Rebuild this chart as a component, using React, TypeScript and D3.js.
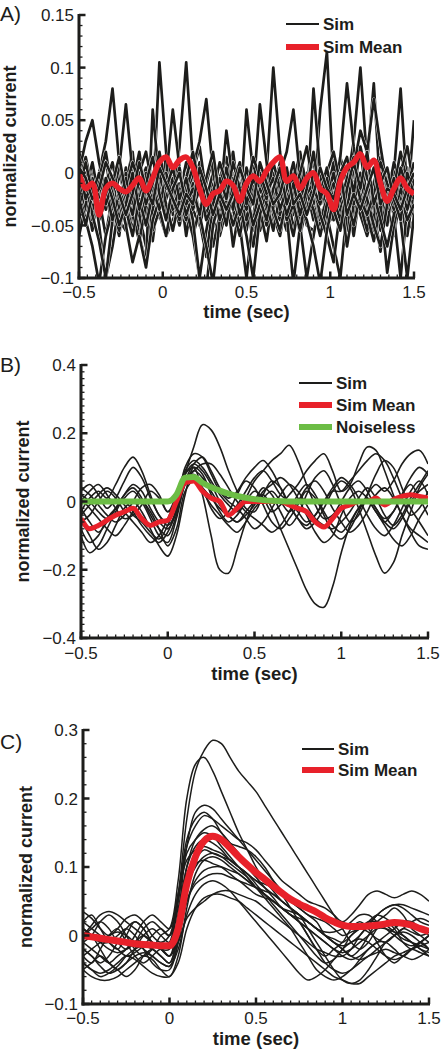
import React from 'react';
import * as d3 from 'd3';

// time grids (sec)
const T_A = d3.range(51).map(i => -0.5 + i * 0.04);
const T_BC = d3.range(41).map(i => -0.5 + i * 0.05);

// ---------- Panel A (values in units of 0.001) ----------
const simA1 = [10, -20, 5, -30, -10, -40, 0, -25, -50, -15, 5, -30, 105, 20, -40, -10, -60, -20, 10, -35, -5, -55, -20, 0, -45, -15, -70, -30, 5, -25, -40, -10, -55, -20, 0, -30, 60, 115, -10, -45, -20, -60, -15, 0, -35, -75, -25, -5, -40, -20, -30];
const simA2 = [-30, 0, -45, -20, 15, -35, -60, -10, 20, -40, -20, -65, -15, 10, -30, 25, 105, 10, -50, -25, 0, -40, -15, -70, -30, 5, -20, -45, 0, 100, 20, -40, -15, -60, -30, 0, -50, -20, 10, -35, -55, -10, 20, -25, -45, 0, -30, -60, -20, 5, -40];
const simA3 = [20, -10, -40, 0, 30, 80, 10, -30, -55, -20, 0, -45, -25, 15, -15, -50, -30, 0, 25, -20, -70, -40, -10, 20, -30, -55, -15, 5, -40, -20, 10, -35, -60, -25, 0, -45, -15, -40, -20, 15, -10, 30, 100, 10, 85, -20, -50, -5, -30, -60, -15];
const simA4 = [-45, -15, 10, -25, -60, -20, 5, 65, 0, -40, -70, -35, -5, -30, -55, -20, 10, -15, -45, -80, -30, -5, 15, -25, -50, -100, -40, -10, -30, 0, -20, -45, -15, 10, -30, 80, 0, -40, -70, -100, -35, -5, -25, -50, -10, 15, -30, 0, 80, -20, -45];
const simA5 = [0, 30, 50, 10, -20, -50, -15, -40, -10, 20, -25, -55, -35, -5, 60, 5, -30, -60, -35, -10, 15, -20, -45, -15, -40, 60, 0, -35, -65, -20, 5, -30, -10, 20, -15, -45, -20, 5, -25, 15, 85, 25, -20, -45, -15, -55, -25, 10, -10, -35, -5];
const simA6 = [-60, -30, -5, -50, -100, -70, -30, 0, -20, -60, -85, 60, -10, -40, -20, 5, -35, -60, -100, -110, -50, -25, 5, -30, -10, -45, -20, 65, 10, -40, -60, -25, 0, -50, -100, -60, -25, -10, -45, -20, -70, -30, -5, -35, -60, -20, 0, -40, -100, -30, 50];
const simA7 = [15, -15, -35, -5, 20, -20, -45, -15, 10, -10, -40, -20, 15, -25, -5, -40, -15, 5, 30, 70, 0, -30, 40, -10, -35, -15, 10, -20, -50, -25, 0, 20, 60, -5, -35, -10, -45, -25, 0, -30, -5, 15, -30, -55, -20, 0, -35, -15, 20, -10, -25];
const simA8 = [-20, -45, -70, -105, -60, -35, -55, -20, -40, -65, -30, -5, -35, -60, -25, -50, -15, -45, -100, -55, -20, -40, -10, -35, -60, -25, -45, -15, -30, -55, -20, -40, -105, -50, -20, -35, -60, -30, -10, -40, -25, -50, -20, -40, -65, -30, -95, -50, -20, -45, -30];
const simA9 = [-35, -10, -40, -65, -100, -45, -15, -35, -60, -25, -50, -20, 0, -30, -55, -25, -45, -10, -40, -70, -105, -45, -25, -50, -30, -60, -100, -40, -15, -35, -5, -45, -30, -55, -20, -10, -40, -60, -85, -35, -15, -30, 0, -25, -50, -70, -30, -5, -45, -100, -40];
const simA10 = [5, -25, -10, -30, -15, -45, -20, -50, -85, -60, -90, -45, -25, -5, -35, -15, -40, -20, 0, -30, -15, -45, -25, -5, -40, -20, -50, -30, -10, -35, -55, -25, -5, -30, -45, -70, -105, -55, -25, -45, -20, 0, -25, -40, -20, -45, -70, -40, -15, -35, -10];
const simA11 = [-10, 15, -15, -35, -10, 10, -25, -5, -30, 0, 20, -15, -35, 0, -25, -45, -5, 20, -15, -40, -20, 10, -10, -35, 5, -20, 15, -5, -25, 10, -15, -40, -20, 0, 25, -15, -30, 0, 20, -10, -35, 5, 40, 20, 70, 25, -15, -35, 0, 25, -15];
const simA12 = [-25, -50, -20, 0, -30, -10, 15, -20, -40, -5, -30, -10, 20, -15, 5, -25, -5, -35, -15, -45, -30, -5, -25, 10, -15, -35, -10, 0, -20, -5, -35, -15, 10, -25, -5, 10, -20, 5, -30, 0, 15, -20, 25, -5, -20, 10, -10, -30, 5, -15, 10];
const simA13 = [-15, 10, -20, -40, -5, -25, -50, -30, 0, -35, -10, 15, -20, -45, -15, 0, -30, -15, -40, -5, 20, -25, -50, -10, 10, -30, -5, -25, -45, -15, 5, -30, -10, -40, -15, 20, -25, -5, -35, -55, -15, 10, -15, 20, -30, -10, 5, -25, -45, 0, -20];
const simA14 = [-40, -20, -55, -10, -35, -20, -35, 5, -30, -50, -20, -40, -10, -25, 5, -30, -50, -25, -5, -45, -35, -10, -30, -45, -20, -35, -55, -20, -5, -35, -45, -20, -40, -5, -25, -40, -10, -30, -15, -55, -30, -45, -5, -15, -35, -55, -20, -40, -25, -10, -35];
const simA15 = [5, -5, -25, -15, 10, -5, -20, -40, -20, 10, -15, -30, 5, -10, -25, -40, -20, -30, 5, -15, -40, -20, -35, -20, 5, -15, -30, 10, -10, -30, -20, 5, -30, -20, -40, -20, 5, -15, -25, 0, -40, -20, -35, -15, 5, -30, -15, -20, -35, -15, 0];
const simA16 = [-55, -35, -15, -45, -25, -5, -45, -55, -30, -40, -5, -50, -40, -60, -45, -30, -10, -35, -50, -20, -45, -60, -35, -30, -50, -40, -25, -55, -30, -45, -35, -55, -30, -20, -50, -55, -35, -50, -40, -20, -45, -25, -40, -60, -35, -40, -50, -10, -40, -55, -45];
const meanA = [0, -15, -10, -40, -15, -10, -15, -18, -12, -5, -17, -5, 10, 15, 5, 12, 15, 5, -15, -30, -20, -17, -8, -12, -27, -10, -3, -8, 2, 10, 15, -8, -3, -15, -5, 0, -15, -20, -35, -8, 5, 10, 18, 5, 12, -10, -27, -15, -5, -15, -20];

// ---------- Panel B (values in units of 0.01) ----------
const simB1 = [2, 0, -3, -5, -2, 2, 5, 3, -2, -6, -8, -3, 8, 16, 22.5, 21, 16, 9, 3, -2, -3, 2, 6, 4, -1, -5, -8, -6, -2, 3, 6, 4, -2, -9, -16, -21, -18, -10, -3, 4, 8];
const simB2 = [-3, 1, 3, 1, 5, 10, 13, 9, 2, -4, -6, 0, 8, 10, 2, -10, -20, -21, -14, -6, 0, 4, 2, -3, -7, -4, 2, 7, 9, 5, -1, -6, -4, 2, 8, 12, 10, 4, -2, -6, -10];
const simB3 = [-8, -12, -10, -5, -2, 0, -3, -7, -10, -12, -9, -2, 6, 9, 7, 3, -1, -4, -6, -3, 0, 2, -2, -8, -14, -20, -26, -30, -31, -25, -15, -7, -2, 1, -2, -6, -8, -5, 0, 3, 5];
const simB4 = [0, 3, 5, 2, -2, -5, -4, -1, 3, 1, -3, 2, 9, 12, 10, 6, 2, -1, -3, 1, 6, 9, 12, 14, 16.5, 12, 5, -1, -5, -4, 0, 4, 6, 3, -2, -5, -3, 2, 7, 10, 8];
const simB5 = [-5, -10, -14, -12, -7, -2, 0, -3, -8, -13, -16, -10, 2, 10, 8, 2, -3, -6, -4, 0, 3, 1, -3, -1, 2, 5, 9, 12, 14, 9, 3, 5, 11, 16, 15, 9, 2, -4, -8, -10, -12];
const simB6 = [-10, -15, -13, -8, -3, 1, 3, 0, -5, -10, -12, -5, 5, 8, 4, -2, -5, -3, 2, 6, 4, -1, -6, -8, -5, -1, 3, 1, -4, -9, -11, -8, -3, 2, 5, 3, 6, 11, 14, 15, 11];
const simB7 = [3, 5, 2, -2, 1, 6, 10, 7, 1, -4, -7, -3, 6, 11, 13, 9, 4, 1, 3, 7, 10, 12, 9, 4, -1, -5, -7, -4, 0, 3, 3, 6, 9, 12, 14, 12, 7, 1, -4, -2, 3];
const simB8 = [-6, -4, 0, 3, 1, -3, -6, -9, -12, -10, -5, 1, 7, 7, 3, -1, -4, -7, -9, -6, -2, 1, 3, 0, -3, 0, 4, 6, 3, -2, -6, -9, -7, -3, 2, 4, 1, -4, -9, -13, -14];
const simB9 = [4, 2, -1, -4, -6, -4, 0, 4, 5, 2, -3, 0, 10, 14, 13, 8, 3, 0, -2, -5, -8, -6, -2, 2, 5, 3, -1, -5, -7, -8, -6, -3, 1, 4, 1, -4, -7, -4, 1, 5, 9];
const simB10 = [-2, -6, -9, -6, -2, 2, 4, 1, -4, -8, -10, -4, 5, 9, 11, 11, 8, 4, 0, -3, -5, -7, -9, -7, -3, 2, 5, 2, -3, -7, -9, -6, -2, 0, -3, -7, -11, -13, -10, -5, -1];
const simB11 = [1, -2, -5, -8, -10, -7, -3, 0, -3, -8, -13, -8, 3, 6, 4, 1, -2, -4, -1, 3, 7, 9, 6, 2, 0, -3, -6, -4, 0, 4, 7, 5, 1, -4, -8, -10, -7, -2, 3, 6, 2];
const simB12 = [-4, -1, 2, 4, 2, -1, -4, -6, -9, -11, -7, 0, 8, 11, 9, 5, 0, -4, -6, -4, -1, 3, 5, 7, 5, 1, -4, -9, -12, -10, -4, 1, 3, 1, -3, -6, -3, 2, 5, 1, -4];
const meanB = [-5, -8, -7, -5.5, -4, -3, -2, -5, -7, -6, -5.5, 0, 5.5, 6, 3, 1, 0, -4, -2, 0, 0, 0, 0, 0, -1, -2, -3, -6, -7.5, -5, -2, -1, 0, 0, 1, -1, 0.5, 1.5, 2, 1.5, 1];
const noiselessB = [0, 0, 0, 0, 0, 0, 0, 0, 0, 0, 0, 2, 7, 7.2, 5.5, 4.2, 3.2, 2.3, 1.6, 1.1, 0.7, 0.4, 0.2, 0.1, 0, 0, 0, 0, 0, 0, 0, 0, 0, 0, 0, 0, 0, 0, 0, 0, 0];

// ---------- Panel C (values in units of 0.01) ----------
const simC1 = [2, 3, 1, -1, -2, 0, 2, 1, -1, -2, -1, 6, 17, 24, 27, 28.5, 28, 26, 24, 22.5, 21, 19, 17, 15, 13, 11, 9, 7, 5, 3, 1, -1, -2, -1, 1, 2, 1, -1, -2, -1, 0];
const simC2 = [-1, 0, 2, 3, 2, 0, -2, -3, -2, 0, 1, 8, 20, 25, 26, 24, 21, 18, 15, 12.5, 10, 8, 6.5, 5, 4, 3, 2, 1, 0, -1, -2, -3, -2, 0, 2, 3, 4, 3, 1, 0, -1];
const simC3 = [-3, -4, -2, 0, 1, -1, -3, -4, -3, -2, -3, 3, 13, 18, 19, 18.5, 17, 15.5, 14, 12.5, 11, 9.5, 8, 6.5, 5, 4, 3, 2.5, 2, 1, 0, 0.5, 1, 2, 3, 2.5, 1.5, 0, -1, -2, -3];
const simC4 = [1, 0, -2, -4, -5, -4, -2, 0, 1, 0, -1, 5, 14, 17, 18, 17, 15, 13.5, 13, 12.5, 11.5, 10, 8, 6, 4, 2, 0, -2, -3, -2, -1, 1, 2, 1, -1, -3, -4, -3, -2, -1, -2];
const simC5 = [3.5, 2.5, 1, 0, 1, 2.5, 3, 2, 0, -1, 0, 6, 13, 16, 17.5, 17, 16, 15, 14, 13.5, 12.5, 11, 9.5, 8, 7, 6, 5, 4.5, 4, 3, 2, 3, 4.5, 6, 6.5, 6, 5.5, 6, 6.5, 6, 5];
const simC6 = [-5, -4, -3, -4, -5, -6, -5, -3, -2, -3, -4, 1, 10, 14, 15.5, 16, 15, 13.5, 12, 10, 8.5, 7, 5.5, 4, 3, 2, 0, -2, -4, -5, -5.5, -5, -3.5, -2, -1, -1, -2, -3, -2, -1, 0];
const simC7 = [0, 1, 2, 1, -1, -2, -1, 1, 2, 1, 0, 5, 12, 14, 15, 14.5, 13, 11.5, 10, 8.5, 7, 6, 5, 4, 3.5, 3, 2, 1, 0, -0.5, -1, 0, 1, 0.5, -0.5, -1, 0, 1, 2, 2.5, 2];
const simC8 = [-2, -3, -4, -3, -1, 1, 2, 1, -1, -2, -2, 3, 10, 13, 14, 13.5, 12.5, 11, 10, 9, 8, 7.5, 7, 6, 5, 4, 3, 2, 0, -1, -2, -3, -3.5, -3, -2, -1, 0, 0.5, 0, -1, -2];
const simC9 = [-1, -2, -3, -4, -3, -2, 0, 2, 3, 2, 1, 6, 11, 12.5, 13, 12.5, 12, 11, 10, 9, 7.5, 6, 4.5, 3, 1.5, 0, -1.5, -3, -4, -3.5, -2, 0, 1, 2, 2, 1.5, 0.5, -0.5, -1, -1.5, -2];
const simC10 = [1, 0, -1, -1, 0, 1, 0, -2, -4, -5, -5, -1, 7, 11, 12.5, 12, 11.5, 11, 10, 9, 8, 7, 6, 5, 4, 3, 1, -1, -3, -5, -6.5, -7, -6.5, -5, -3, -1, 0, 1, 0.5, 0, 0.5];
const simC11 = [-4, -5, -6, -5.5, -4.5, -3, -2, -1.5, -2, -3, -4, 0, 7, 10, 11.5, 12, 11.5, 10.5, 9.5, 8.5, 7, 5.5, 4, 2.5, 1, -1, -3, -5, -6, -6.5, -6, -5, -4, -3, -2.5, -2, -2.5, -3, -3.5, -3, -2];
const simC12 = [2, 1, 0, -1, -2, -3, -2.5, -1.5, 0, 1, 0, 4, 9, 10.5, 11, 10.5, 10, 9, 8, 7.5, 7, 6.5, 6, 5, 4, 3, 2, 1, 0.5, 0.5, 1, 2, 3, 3, 2, 1, 0, -1, -1.5, -1, 0];
const simC13 = [-3, -2, -1, 0, 0.5, 0, -1, -2, -3, -4, -4.5, -1, 5, 8, 9.5, 10, 10, 9.5, 9, 8, 7, 6, 5, 4, 3, 2, 1, 0, -1, -2, -2.5, -2, -1, 0, 1, 1, 0.5, 0, -1, -2, -2.5];
const simC14 = [0, 1.5, 3, 3.5, 3, 2, 1, 0, -1, -2, -3, 0, 5, 7.5, 8.5, 9, 9, 8.5, 8, 7, 6, 5.5, 5, 4, 3, 2, 1, 0, -1, -2, -3, -3.5, -3, -2, -1, 0, 1, 2, 2, 1, 0];
const simC15 = [-2, -3, -4.5, -5.5, -5, -4, -3, -2.5, -3, -4, -4.5, -2, 3, 6, 7.5, 8, 7.5, 6.5, 5, 3.5, 2, 0.5, -1, -2.5, -4, -5.5, -6.5, -6, -5, -3.5, -2, -1, -0.5, -1, -2, -3, -3.5, -3, -2, -1.5, -1];
const simC16 = [-4, -5, -5.5, -5, -4, -3, -3.5, -4.5, -5.5, -6, -6, -4, 1, 4, 5.5, 6, 6, 5.5, 5, 4, 3, 2, 1, 0, -1, -2, -3, -4, -5, -6, -6.5, -7, -7, -6, -5, -4, -3, -2.5, -2, -2.5, -3];
const simC17 = [1, 0, -1, -2, -2.5, -2, -1, 0, -1, -2, -3, -1, 2.5, 4, 5, 6, 6.5, 6.5, 6, 5.5, 5, 4, 3, 2, 1, 0, -1, -2, -2.5, -3, -3, -2, 0, 1.5, 3, 4, 4.5, 4, 3, 2, 1.5];
const simC18 = [-5, -6, -6.5, -6.5, -6, -5, -4, -3, -3.5, -5, -6, -3, 4, 9, 11, 11.5, 11, 10, 9, 8, 7, 6, 5, 4, 3, 2.5, 2, 1, 0, -1, -1.5, -1, 0, 1.5, 3, 4, 4.5, 4.5, 4, 3.5, 3];
const meanC = [0, -0.2, -0.4, -0.6, -0.8, -1, -1.2, -1.3, -1.4, -1.5, -1.5, 1, 7.5, 11.5, 13.8, 14.5, 14, 12.8, 11.5, 10.3, 9.2, 8.2, 7.2, 6.2, 5.3, 4.6, 4, 3.4, 2.6, 2, 1.5, 1.3, 1.3, 1.4, 1.5, 1.7, 1.9, 1.8, 1.5, 1, 0.6];

// ---------- ticks ----------
const X_TICKS = [-0.5, 0, 0.5, 1, 1.5];
const X_TICK_LABELS = ['\u22120.5', '0', '0.5', '1', '1.5'];
const A_Y_TICKS = [-0.1, -0.05, 0, 0.05, 0.1, 0.15];
const A_Y_LABELS = ['\u22120.1', '\u22120.05', '0', '0.05', '0.1', '0.15'];
const B_Y_TICKS = [-0.4, -0.2, 0, 0.2, 0.4];
const B_Y_LABELS = ['\u22120.4', '\u22120.2', '0', '0.2', '0.4'];
const C_Y_TICKS = [-0.1, 0, 0.1, 0.2, 0.3];
const C_Y_LABELS = ['\u22120.1', '0', '0.1', '0.2', '0.3'];

const BLACK = '#1d1d1b';
const RED = '#e8212a';
const GREEN = '#6cbd45';
const FONT = 'Liberation Sans, Arial, Helvetica, sans-serif';

function Panel(props: any) {
  const { id, box, yDomain, yTicks, yLabels, yMinorStep, t, unit, sims, simWidth, simHalo, simCurve, overlays, legend, letter, letterY, xTickY, xTitleY, yTitleX } = props;
  const x = d3.scaleLinear().domain([-0.5, 1.5]).range([box.l, box.r]);
  const y = d3.scaleLinear().domain(yDomain).range([box.b, box.t]);
  const gen = (curve: any) => d3.line<number>().x((_, i) => x(t[i])).y(v => y(v * unit)).curve(curve);
  const xMinor = d3.range(-0.5, 1.5 + 1e-9, 0.05);
  const yMinor = d3.range(yDomain[0], yDomain[1] + 1e-9, yMinorStep);
  const simGen = gen(simCurve);
  return (
    <g>
      <defs>
        <clipPath id={id}>
          <rect x={box.l} y={box.t} width={box.r - box.l} height={box.b - box.t} />
        </clipPath>
      </defs>
      <g clipPath={`url(#${id})`}>
        {sims.map((s: number[], k: number) => (
          <g key={k}>
            {simHalo ? <path d={simGen(s) || ''} fill="none" stroke="#fff" strokeWidth={simWidth + simHalo} strokeLinejoin="round" /> : null}
            <path d={simGen(s) || ''} fill="none" stroke={BLACK} strokeWidth={simWidth} strokeLinejoin="round" />
          </g>
        ))}
        {overlays.map((o: any, k: number) => (
          <path key={'o' + k} d={gen(o.curve)(o.values) || ''} fill="none" stroke={o.color} strokeWidth={o.width} strokeLinejoin="round" strokeLinecap="butt" />
        ))}
      </g>
      {xMinor.map((v, k) => (
        <line key={'xm' + k} x1={x(v)} x2={x(v)} y1={box.b} y2={box.b - 3.5} stroke={BLACK} strokeWidth={1.3} />
      ))}
      {yMinor.map((v, k) => (
        <line key={'ym' + k} x1={box.l} x2={box.l + 3.5} y1={y(v)} y2={y(v)} stroke={BLACK} strokeWidth={1.3} />
      ))}
      {X_TICKS.map((v, k) => (
        <line key={'xM' + k} x1={x(v)} x2={x(v)} y1={box.b} y2={box.b - 6.5} stroke={BLACK} strokeWidth={2.5} />
      ))}
      {yTicks.map((v: number, k: number) => (
        <line key={'yM' + k} x1={box.l} x2={box.l + 6.5} y1={y(v)} y2={y(v)} stroke={BLACK} strokeWidth={2.5} />
      ))}
      <line x1={box.l} x2={box.l} y1={box.t - 1} y2={box.b + 1.5} stroke={BLACK} strokeWidth={3} />
      <line x1={box.l - 1.5} x2={box.r + 1} y1={box.b} y2={box.b} stroke={BLACK} strokeWidth={3} />
      {yTicks.map((v: number, k: number) => (
        <text key={'yl' + k} x={box.l - 5} y={y(v)} dy="0.36em" textAnchor="end" fontFamily={FONT} fontSize={17} fill={BLACK}>{yLabels[k]}</text>
      ))}
      {X_TICKS.map((v, k) => (
        <text key={'xl' + k} x={x(v)} y={xTickY} textAnchor="middle" fontFamily={FONT} fontSize={17} fill={BLACK}>{X_TICK_LABELS[k]}</text>
      ))}
      <text x={(box.l + box.r) / 2} y={xTitleY} textAnchor="middle" fontFamily={FONT} fontSize={18.5} fontWeight="bold" fill={BLACK}>time (sec)</text>
      <text transform={`translate(${yTitleX},${(box.t + box.b) / 2}) rotate(-90)`} textAnchor="middle" fontFamily={FONT} fontSize={18} fontWeight="bold" fill={BLACK}>normalized current</text>
      <text x={0} y={letterY} fontFamily={FONT} fontSize={21} fill={BLACK}>{letter}</text>
      {legend.items.map((it: any, k: number) => (
        <g key={'lg' + k}>
          <line x1={legend.x1} x2={legend.x2} y1={legend.y0 + k * legend.dy} y2={legend.y0 + k * legend.dy} stroke={it.color} strokeWidth={it.width} />
          <text x={legend.x2 + 4} y={legend.y0 + k * legend.dy + 6} fontFamily={FONT} fontSize={17} fontWeight="bold" fill={BLACK}>{it.label}</text>
        </g>
      ))}
    </g>
  );
}

export default function App() {
  const simsA = [simA16, simA14, simA1, simA2, simA3, simA4, simA5, simA6, simA7, simA8, simA9, simA10, simA11, simA12, simA13, simA15];
  const simsB = [simB1, simB2, simB3, simB4, simB5, simB6, simB7, simB8, simB9, simB10, simB11, simB12];
  const simsC = [simC1, simC2, simC3, simC4, simC5, simC6, simC7, simC8, simC9, simC10, simC11, simC12, simC13, simC14, simC15, simC16, simC17, simC18];
  return (
    <svg width={442} height={1050} style={{ position: 'absolute', left: 0, top: 0, background: '#fff' }}>
      <rect x={0} y={0} width={442} height={1050} fill="#fff" />
      <Panel
        id="clipA"
        box={{ l: 79, r: 414, t: 15, b: 278 }}
        yDomain={[-0.1, 0.15]}
        yTicks={A_Y_TICKS}
        yLabels={A_Y_LABELS}
        yMinorStep={0.01}
        t={T_A}
        unit={0.001}
        sims={simsA}
        simWidth={2.7}
        simHalo={0.8}
        simCurve={d3.curveLinear}
        overlays={[{ values: meanA, color: RED, width: 5.5, curve: d3.curveCatmullRom }]}
        legend={{ x1: 286, x2: 319, y0: 24, dy: 23, items: [{ label: 'Sim', color: BLACK, width: 2 }, { label: 'Sim Mean', color: RED, width: 6 }] }}
        letter="A)"
        letterY={21}
        xTickY={298}
        xTitleY={318}
        yTitleX={16}
      />
      <Panel
        id="clipB"
        box={{ l: 81, r: 428, t: 365, b: 638 }}
        yDomain={[-0.4, 0.4]}
        yTicks={B_Y_TICKS}
        yLabels={B_Y_LABELS}
        yMinorStep={0.02}
        t={T_BC}
        unit={0.01}
        sims={simsB}
        simWidth={1.6}
        simHalo={0}
        simCurve={d3.curveCatmullRom}
        overlays={[
          { values: meanB, color: RED, width: 5, curve: d3.curveMonotoneX },
          { values: noiselessB, color: GREEN, width: 6, curve: d3.curveMonotoneX },
        ]}
        legend={{ x1: 299, x2: 332, y0: 383, dy: 22, items: [{ label: 'Sim', color: BLACK, width: 2 }, { label: 'Sim Mean', color: RED, width: 6 }, { label: 'Noiseless', color: GREEN, width: 6 }] }}
        letter="B)"
        letterY={372}
        xTickY={659}
        xTitleY={680}
        yTitleX={29}
      />
      <Panel
        id="clipC"
        box={{ l: 83, r: 429, t: 730, b: 1004 }}
        yDomain={[-0.1, 0.3]}
        yTicks={C_Y_TICKS}
        yLabels={C_Y_LABELS}
        yMinorStep={0.02}
        t={T_BC}
        unit={0.01}
        sims={simsC}
        simWidth={1.5}
        simHalo={0}
        simCurve={d3.curveCatmullRom}
        overlays={[{ values: meanC, color: RED, width: 7, curve: d3.curveMonotoneX }]}
        legend={{ x1: 302, x2: 334, y0: 749, dy: 21, items: [{ label: 'Sim', color: BLACK, width: 2 }, { label: 'Sim Mean', color: RED, width: 6 }] }}
        letter="C)"
        letterY={749}
        xTickY={1024}
        xTitleY={1045}
        yTitleX={32}
      />
    </svg>
  );
}
